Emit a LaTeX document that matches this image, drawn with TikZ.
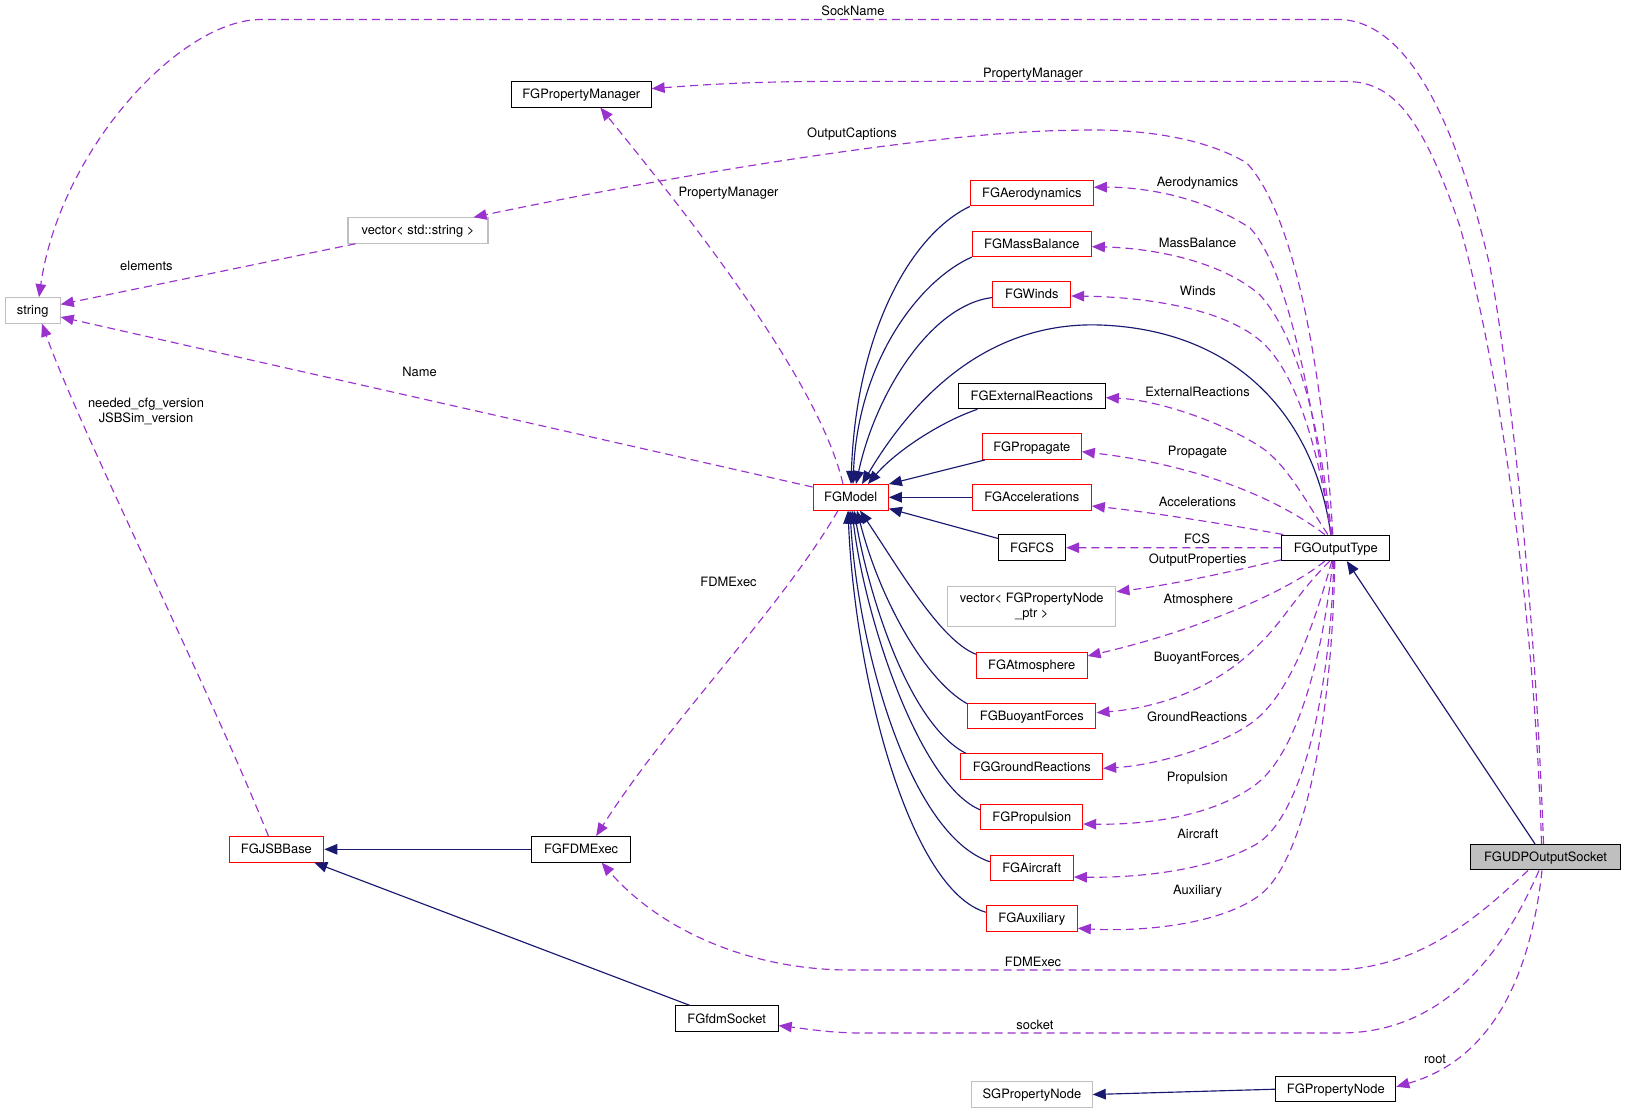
\documentclass[tikz,border=0pt]{standalone}
\usepackage{fontspec}
\setmainfont{TeX Gyre Heros}
\usetikzlibrary{arrows.meta}
\definecolor{navy}{HTML}{191970}
\definecolor{purp}{HTML}{9A32CD}
\definecolor{gborder}{HTML}{BFBFBF}
\definecolor{gfill}{HTML}{BFBFBF}
\definecolor{rborder}{HTML}{FF0000}
\tikzset{
  fnt/.style={font=\fontsize{12.9}{15}\selectfont},
  boxbase/.style={fnt, line width=1.05pt, minimum height=25.5pt, inner sep=0pt, fill=white},
  box/.style={boxbase, text height=9.3pt, text depth=0.5pt},
  blkbox/.style={box, draw=black},
  redbox/.style={box, draw=rborder},
  graybox/.style={box, draw=gborder},
  lbl/.style={fnt, inner sep=0pt, text height=9.3pt, text depth=0.5pt},
  inh/.style={navy, line width=1.15pt, -{Triangle[length=13pt,width=10.5pt]}},
  use/.style={purp, line width=1.15pt, dash pattern=on 8pt off 5pt, -{Triangle[length=13pt,width=10.5pt]}}
}
\begin{document}
\begin{tikzpicture}[x=1pt,y=-1pt]
\path[use as bounding box] (0,0) rectangle (1625,1113);

% nodes
\node[graybox, minimum width=55pt] (string) at (32.7,310.4) {string};
\node[graybox, minimum width=140pt] (vecstr) at (418,230.5) {vector< std::string >};
\node[blkbox, minimum width=139.6pt] (FGPropertyManager) at (581.3,94.3) {FGPropertyManager};
\node[redbox, minimum width=75.3pt] (FGModel) at (850.7,497.3) {FGModel};
\node[redbox, minimum width=123pt] (FGAerodynamics) at (1031.8,193.2) {FGAerodynamics};
\node[redbox, minimum width=119pt] (FGMassBalance) at (1031.8,243.8) {FGMassBalance};
\node[redbox, minimum width=77.7pt] (FGWinds) at (1031.8,294.5) {FGWinds};
\node[blkbox, minimum width=147pt] (FGExternalReactions) at (1031.8,396) {FGExternalReactions};
\node[redbox, minimum width=99pt] (FGPropagate) at (1031.8,446.7) {FGPropagate};
\node[redbox, minimum width=119pt] (FGAccelerations) at (1031.8,497.3) {FGAccelerations};
\node[blkbox, minimum width=67.3pt] (FGFCS) at (1032,547.7) {FGFCS};
\node[boxbase, draw=gborder, minimum width=168.3pt, minimum height=40pt, align=center] (vecnode) at (1031.8,606.7) {vector< FGPropertyNode\\\_ptr >};
\node[redbox, minimum width=110.7pt] (FGAtmosphere) at (1031.7,665.5) {FGAtmosphere};
\node[redbox, minimum width=128.3pt] (FGBuoyantForces) at (1031.8,716) {FGBuoyantForces};
\node[redbox, minimum width=141.7pt] (FGGroundReactions) at (1031.8,766.7) {FGGroundReactions};
\node[redbox, minimum width=101.7pt] (FGPropulsion) at (1031.8,817.2) {FGPropulsion};
\node[redbox, minimum width=83pt] (FGAircraft) at (1031.8,868) {FGAircraft};
\node[redbox, minimum width=91pt] (FGAuxiliary) at (1031.8,918.5) {FGAuxiliary};
\node[blkbox, minimum width=108pt] (FGOutputType) at (1335.8,547.8) {FGOutputType};
\node[blkbox, fill=gfill, minimum width=150.3pt] (FGUDPOutputSocket) at (1545.5,857.2) {FGUDPOutputSocket};
\node[redbox, minimum width=94.7pt] (FGJSBBase) at (276.4,849.3) {FGJSBBase};
\node[blkbox, minimum width=99.4pt] (FGFDMExec) at (581.1,849.3) {FGFDMExec};
\node[blkbox, minimum width=103pt] (FGfdmSocket) at (726.7,1018.6) {FGfdmSocket};
\node[graybox, minimum width=120.6pt] (SGPropertyNode) at (1031.9,1094.5) {SGPropertyNode};
\node[blkbox, minimum width=120pt] (FGPropertyNode) at (1335.8,1089.2) {FGPropertyNode};

% inheritance edges
\draw[inh] (FGAerodynamics.south west) .. controls (910,235) and (856,334) .. ([xshift=0.3pt]FGModel.north);
\draw[inh] (FGMassBalance.south west) .. controls (920,280) and (858,360) .. ([xshift=2.3pt]FGModel.north);
\draw[inh] ([yshift=-3pt]FGWinds.west) .. controls (930,305) and (875,395) .. ([xshift=5.3pt]FGModel.north);
\draw[inh] ([xshift=-5pt]FGOutputType.north) .. controls (1315,420) and (1240,330) .. (1100,325) .. controls (1010,322) and (930,370) .. ([xshift=11.3pt]FGModel.north);
\draw[inh] ([xshift=19.7pt]FGExternalReactions.south west) .. controls (940,422) and (895,452) .. ([xshift=17.3pt]FGModel.north);
\draw[inh] ([xshift=3pt]FGPropagate.south west) -- (FGModel.north east);
\draw[inh] (FGAccelerations.west) -- (FGModel.east);
\draw[inh] ([yshift=-4pt]FGFCS.north west) -- ([yshift=2pt]FGModel.south east);
\draw[inh] ([yshift=-2pt]FGAtmosphere.north west) .. controls (940,640) and (900,570) .. ([xshift=9.3pt]FGModel.south);
\draw[inh] ([yshift=-1pt]FGBuoyantForces.north west) .. controls (925,680) and (880,600) .. ([xshift=6.3pt]FGModel.south);
\draw[inh] ([xshift=5.7pt]FGGroundReactions.north west) .. controls (910,725) and (870,600) .. ([xshift=3.3pt]FGModel.south);
\draw[inh] ([yshift=-6pt]FGPropulsion.north west) .. controls (920,785) and (865,620) .. ([xshift=1.3pt]FGModel.south);
\draw[inh] ([yshift=-7pt]FGAircraft.north west) .. controls (910,835) and (858,650) .. ([xshift=-0.7pt]FGModel.south);
\draw[inh] ([yshift=-7pt]FGAuxiliary.north west) .. controls (910,890) and (855,680) .. ([xshift=-2.7pt]FGModel.south);
\draw[inh] ([xshift=-10.5pt]FGUDPOutputSocket.north) -- ([xshift=11pt]FGOutputType.south);
\draw[inh] (FGFDMExec.west) -- (FGJSBBase.east);
\draw[inh] ([xshift=15pt]FGfdmSocket.north west) -- ([xshift=-10pt]FGJSBBase.south east);
\draw[inh] (FGPropertyNode.west) -- (SGPropertyNode.east);

% usage edges
\draw[use] ([xshift=-2pt]FGUDPOutputSocket.north) .. controls (1535,600) and (1510,380) .. (1490,266.7) .. controls (1465,160) and (1420,22) .. (1340,19.5) -- (261,19.5) .. controls (180,19.5) and (60,150) .. ([xshift=6.3pt]string.north);
\node[lbl] (lSock) at (853,11) {SockName};

\draw[use] ([xshift=-4pt]FGUDPOutputSocket.north) .. controls (1535,620) and (1500,370) .. (1460,226.7) .. controls (1420,110) and (1390,81.4) .. (1345,81.4) -- (820,81.4) .. controls (740,82) and (700,85) .. ([yshift=5.7pt]FGPropertyManager.east);
\node[lbl] (lPM1) at (1033,73) {PropertyManager};

\draw[use] ([xshift=-3pt]FGOutputType.north) .. controls (1325,400) and (1300,220) .. (1246.7,163) .. controls (1200,135) and (1130,128) .. (1070,130.4) .. controls (950,131) and (700,170) .. ([xshift=-15pt]vecstr.north east);
\node[lbl] (lOC) at (852,133) {OutputCaptions};

\draw[use] ([xshift=8pt]vecstr.south west) -- ([yshift=6pt]string.east);
\node[lbl] (lEl) at (146.4,266.4) {elements};

\draw[use] ([yshift=-3pt]FGModel.north west) -- ([yshift=-6.6pt]string.east);
\node[lbl] (lName) at (419.5,372.5) {Name};

\draw[use] ([xshift=-8pt]FGJSBBase.north) .. controls (210,690) and (80,430) .. ([xshift=9.3pt]string.south);
\node[fnt, inner sep=0pt, align=center] (lVer) at (146,411.4) {needed\_cfg\_version\\JSBSim\_version};

\draw[use] ([xshift=-7.7pt]FGModel.north) .. controls (820,385) and (700,230) .. ([xshift=19pt]FGPropertyManager.south);
\node[lbl] (lPM2) at (728.5,191.8) {PropertyManager};

\draw[use] ([xshift=-12.7pt]FGModel.south) .. controls (780,610) and (670,720) .. ([xshift=15pt]FGFDMExec.north);
\node[lbl] (lFE1) at (728.5,582.3) {FDMExec};

\draw[use] ([xshift=-5pt]FGOutputType.north) .. controls (1315,420) and (1290,270) .. (1250,228) .. controls (1200,195) and (1140,187) .. ([yshift=6pt]FGAerodynamics.east);
\node[lbl] (lAe) at (1197.5,182.3) {Aerodynamics};

\draw[use] ([xshift=-4pt]FGOutputType.north) .. controls (1320,430) and (1300,340) .. (1260,295) .. controls (1220,260) and (1150,248) .. ([yshift=-2.9pt]FGMassBalance.east);
\node[lbl] (lMB) at (1197.5,243.3) {MassBalance};

\draw[use] ([xshift=-4.5pt]FGOutputType.north) .. controls (1320,460) and (1300,380) .. (1265,345) .. controls (1230,310) and (1150,297) .. ([yshift=-1.5pt]FGWinds.east);
\node[lbl] (lWi) at (1197.8,291) {Winds};

\draw[use] ([xshift=-8pt]FGOutputType.north) .. controls (1305,500) and (1290,470) .. (1265,450) .. controls (1230,425) and (1160,400) .. ([yshift=-1.7pt]FGExternalReactions.east);
\node[lbl] (lER) at (1197.5,392.3) {ExternalReactions};

\draw[use] ([xshift=-11pt]FGOutputType.north) .. controls (1280,500) and (1200,465) .. ([yshift=-5pt]FGPropagate.east);
\node[lbl] (lPr) at (1197.5,450.7) {Propagate};

\draw[use] ([xshift=2pt]FGOutputType.north west) .. controls (1230,525) and (1150,512) .. ([yshift=-8.7pt]FGAccelerations.east);
\node[lbl] (lAc) at (1197.5,502.3) {Accelerations};

\draw[use] (FGOutputType.west) -- (FGFCS.east);
\node[lbl] (lFCS) at (1197,539) {FCS};

\draw[use] ([yshift=-12pt]FGOutputType.west) .. controls (1230,572) and (1170,585) .. ([yshift=15pt]vecnode.east);
\node[lbl] (lOP) at (1197.7,559.3) {OutputProperties};

\draw[use] ([xshift=-11pt]FGOutputType.south) .. controls (1290,590) and (1200,630) .. ([yshift=9.5pt]FGAtmosphere.east);
\node[lbl] (lAt) at (1198.3,599.3) {Atmosphere};

\draw[use] ([xshift=-6pt]FGOutputType.south) .. controls (1300,590) and (1280,625) .. (1260,643.3) .. controls (1240,665) and (1190,705) .. ([yshift=3.3pt]FGBuoyantForces.east);
\node[lbl] (lBF) at (1196.7,656.7) {BuoyantForces};

\draw[use] ([xshift=-4pt]FGOutputType.south) .. controls (1310,640) and (1285,700) .. (1250,724) .. controls (1220,745) and (1160,765) .. ([yshift=-1.6pt]FGGroundReactions.east);
\node[lbl] (lGR) at (1197.2,716.7) {GroundReactions};

\draw[use] ([xshift=-3pt]FGOutputType.south) .. controls (1320,680) and (1290,760) .. (1255,785) .. controls (1215,815) and (1150,825) .. ([yshift=-6.8pt]FGPropulsion.east);
\node[lbl] (lPu) at (1197.3,776.7) {Propulsion};

\draw[use] ([xshift=-2pt]FGOutputType.south) .. controls (1330,700) and (1300,820) .. (1255,845) .. controls (1210,870) and (1140,878) .. ([yshift=-9pt]FGAircraft.east);
\node[lbl] (lAi) at (1197.8,834.3) {Aircraft};

\draw[use] ([xshift=-1pt]FGOutputType.south) .. controls (1332,720) and (1305,860) .. (1260,895) .. controls (1220,925) and (1140,932) .. ([yshift=-9.8pt]FGAuxiliary.east);
\node[lbl] (lAu) at (1197.5,890) {Auxiliary};

\draw[use] ([xshift=-17.5pt]FGUDPOutputSocket.south) .. controls (1480,915) and (1420,970) .. (1330,970) -- (850,970) .. controls (750,970) and (660,930) .. ([xshift=20.5pt]FGFDMExec.south);
\node[lbl] (lFE2) at (1033,962.2) {FDMExec};

\draw[use] ([xshift=-6.5pt]FGUDPOutputSocket.south) .. controls (1500,960) and (1440,1033) .. (1340,1033) -- (860,1033) .. controls (830,1033) and (800,1028) .. ([yshift=-7pt]FGfdmSocket.east);
\node[lbl] (lSo) at (1034.9,1024.7) {socket};

\draw[use] ([xshift=-3.5pt]FGUDPOutputSocket.south) .. controls (1530,980) and (1490,1060) .. ([yshift=2.5pt]FGPropertyNode.east);
\node[lbl] (lRo) at (1435,1058.7) {root};
\end{tikzpicture}
\end{document}
